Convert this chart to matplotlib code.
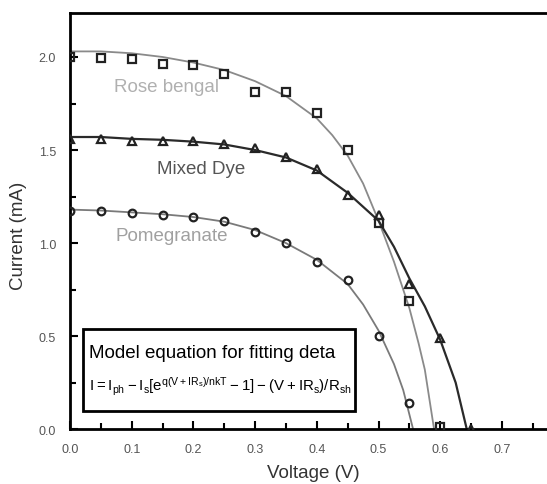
import matplotlib
matplotlib.use("Agg")
import matplotlib.pyplot as plt
from matplotlib.patches import Rectangle

plt.rcParams['font.family'] = ['Liberation Sans', 'DejaVu Sans']
plt.rcParams['mathtext.default'] = 'regular'

# ---- measured data points ----
volt = [0.0, 0.05, 0.1, 0.15, 0.2, 0.25, 0.3, 0.35, 0.4, 0.45, 0.5, 0.55, 0.6, 0.65]
rose_i = [2.00, 1.995, 1.99, 1.96, 1.955, 1.91, 1.81, 1.81, 1.70, 1.50, 1.11, 0.69, 0.01]
mixed_i = [1.56, 1.56, 1.55, 1.55, 1.55, 1.53, 1.51, 1.46, 1.40, 1.26, 1.15, 0.78, 0.49, 0.0]
pome_i = [1.17, 1.17, 1.16, 1.15, 1.14, 1.12, 1.06, 1.00, 0.90, 0.80, 0.50, 0.14]

# ---- fitted model curves ----
rose_fit_v = [0.0, 0.05, 0.1, 0.15, 0.2, 0.25, 0.3, 0.35, 0.4, 0.425, 0.45, 0.475, 0.5, 0.525, 0.55, 0.565, 0.575, 0.59]
rose_fit_i = [2.03, 2.03, 2.02, 2.00, 1.97, 1.93, 1.87, 1.79, 1.67, 1.58, 1.47, 1.32, 1.12, 0.90, 0.65, 0.46, 0.32, 0.0]
mixed_fit_v = [0.0, 0.05, 0.1, 0.15, 0.2, 0.25, 0.3, 0.35, 0.4, 0.45, 0.5, 0.525, 0.55, 0.575, 0.6, 0.625, 0.643]
mixed_fit_i = [1.57, 1.57, 1.56, 1.555, 1.545, 1.53, 1.50, 1.46, 1.39, 1.27, 1.12, 0.98, 0.81, 0.66, 0.48, 0.25, 0.0]
pome_fit_v = [0.0, 0.05, 0.1, 0.15, 0.2, 0.25, 0.3, 0.35, 0.4, 0.45, 0.475, 0.5, 0.525, 0.54, 0.556]
pome_fit_i = [1.18, 1.175, 1.165, 1.155, 1.14, 1.115, 1.07, 1.00, 0.91, 0.78, 0.67, 0.53, 0.35, 0.21, 0.0]

series_names = ["Rose bengal", "Mixed Dye", "Pomegranate"]
x_ticks = [0.0, 0.1, 0.2, 0.3, 0.4, 0.5, 0.6, 0.7]
y_ticks = [0.0, 0.5, 1.0, 1.5, 2.0]

fig = plt.figure(figsize=(5.47, 4.85), dpi=100)
ax = fig.add_axes([0.128, 0.113, 0.872, 0.858])

ax.plot(rose_fit_v, rose_fit_i, color='#8a8a8a', lw=1.3, zorder=2)
ax.plot(mixed_fit_v, mixed_fit_i, color='#2a2a2a', lw=1.6, zorder=2)
ax.plot(pome_fit_v, pome_fit_i, color='#7a7a7a', lw=1.3, zorder=2)

mk = dict(linestyle='none', fillstyle='none', markeredgecolor='#222222',
          markeredgewidth=1.6, markersize=5.5, zorder=3)
ax.plot(volt[:len(rose_i)], rose_i, marker='s', **mk)
ax.plot(volt[:len(mixed_i)], mixed_i, marker='^', **mk)
ax.plot(volt[:len(pome_i)], pome_i, marker='o', **mk)

ax.text(0.157, 1.84, series_names[0], color='#b0b0b0', fontsize=13.5, ha='center', va='center')
ax.text(0.213, 1.40, series_names[1], color='#555555', fontsize=13.5, ha='center', va='center')
ax.text(0.165, 1.04, series_names[2], color='#a0a0a0', fontsize=13.5, ha='center', va='center')

# equation box
ax.add_patch(Rectangle((0.021, 0.097), 0.441, 0.443, facecolor='white',
                       edgecolor='black', linewidth=2, zorder=4))
ax.text(0.03, 0.414, "Model equation for fitting deta", fontsize=13.5,
        ha='left', va='center', zorder=5)
ax.text(0.03, 0.235, r"$I = I_{ph} - I_s[e^{q(V+IR_s)/nkT} - 1] - (V+IR_s)/R_{sh}$",
        fontsize=10.8, ha='left', va='center', zorder=5)

ax.set_xlim(0, 0.773)
ax.set_ylim(0, 2.236)
ax.set_xticks(x_ticks)
ax.set_yticks(y_ticks)
ax.set_xticks([0.05, 0.15, 0.25, 0.35, 0.45, 0.55, 0.65, 0.75], minor=True)
ax.set_yticks([0.25, 0.75, 1.25, 1.75], minor=True)
ax.set_xticklabels([f"{v:.1f}" for v in x_ticks])
ax.set_yticklabels([f"{v:.1f}" for v in y_ticks])
ax.tick_params(which='both', direction='in', top=False, right=False,
               labelsize=9, labelcolor='#555555', width=1.5)
ax.tick_params(which='major', length=6, pad=10)
ax.tick_params(which='minor', length=4)

for s in ['left', 'bottom', 'top']:
    ax.spines[s].set_linewidth(2)
ax.spines['right'].set_visible(False)

ax.set_xlabel("Voltage (V)", fontsize=13.5, color='#333333')
ax.set_ylabel("Current (mA)", fontsize=13.5, color='#333333')
ax.yaxis.set_label_coords(-0.09, 0.466)
ax.xaxis.set_label_coords(0.51, -0.104)
ax.xaxis.label.set_verticalalignment('center')

fig.savefig("out.png", dpi=100)
